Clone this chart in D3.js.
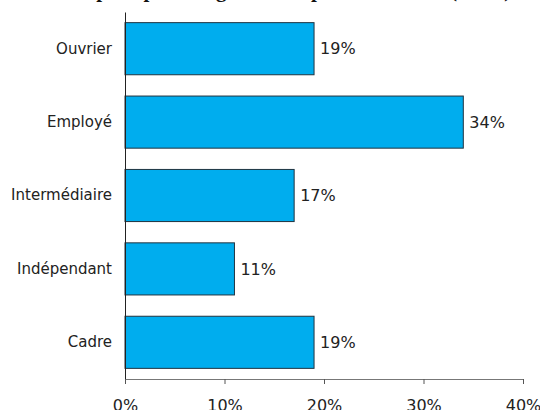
<!DOCTYPE html>
<html>
<head>
<meta charset="utf-8">
<script src="https://cdn.jsdelivr.net/npm/d3@7"></script>
<style>
  html, body { margin: 0; padding: 0; background: #fff; }
  svg { display: block; }
</style>
</head>
<body>
<svg id="chart" width="540" height="410"></svg>
<script>
// Répartition des emplois par catégorie socioprofessionnelle
const categories = ["Ouvrier", "Employé", "Intermédiaire", "Indépendant", "Cadre"];
const shares = [19, 34, 17, 11, 19];
const tickValues = [0, 10, 20, 30, 40];
const titleText = "Emplois par catégorie socioprofessionnelle (en %)";

const svg = d3.select("#chart");
const margin = { left: 125, right: 17, top: 12, bottom: 31 };
const W = 540, H = 410;

const x = d3.scaleLinear().domain([0, 40]).range([margin.left, W - margin.right]);
const y = d3.scaleBand().domain(categories)
  .range([margin.top, H - margin.bottom])
  .paddingInner(0.29).paddingOuter(0.145);

// title, mostly above the visible area
svg.append("text")
  .attr("x", 288).attr("y", -3)
  .attr("text-anchor", "middle")
  .attr("font-family", "Liberation Serif")
  .attr("font-weight", "bold")
  .attr("font-size", 21)
  .attr("fill", "#111")
  .text(titleText);

const data = categories.map((c, i) => ({ cat: c, v: shares[i] }));

svg.append("g").selectAll("rect").data(data).join("rect")
  .attr("x", x(0))
  .attr("y", d => y(d.cat))
  .attr("width", d => x(d.v) - x(0))
  .attr("height", y.bandwidth())
  .attr("fill", "#00adee")
  .attr("stroke", "#1f3340")
  .attr("stroke-width", 1);

svg.append("g").selectAll("text").data(data).join("text")
  .attr("x", d => x(d.v) + 6)
  .attr("y", d => y(d.cat) + y.bandwidth() / 2)
  .attr("dy", "0.36em")
  .attr("font-family", "DejaVu Sans")
  .attr("font-size", 16)
  .attr("fill", "#222")
  .text(d => d.v + "%");

// category axis
const yAxis = svg.append("g")
  .attr("transform", `translate(${x(0)},0)`)
  .call(d3.axisLeft(y).tickSize(0).tickPadding(13));
yAxis.select(".domain").attr("stroke", "#222");
yAxis.selectAll("text")
  .attr("font-family", "DejaVu Sans")
  .attr("font-size", 15)
  .attr("fill", "#222");

// value axis
const xAxis = svg.append("g")
  .attr("transform", `translate(0,${H - margin.bottom})`)
  .call(d3.axisBottom(x).tickValues(tickValues)
    .tickFormat(d => d + "%").tickSize(5).tickSizeOuter(5).tickPadding(16));
xAxis.select(".domain").attr("stroke", "#777");
xAxis.selectAll(".tick line").attr("stroke", "#555");
xAxis.selectAll("text")
  .attr("font-family", "DejaVu Sans")
  .attr("font-size", 16)
  .attr("fill", "#222");
</script>
</body>
</html>
